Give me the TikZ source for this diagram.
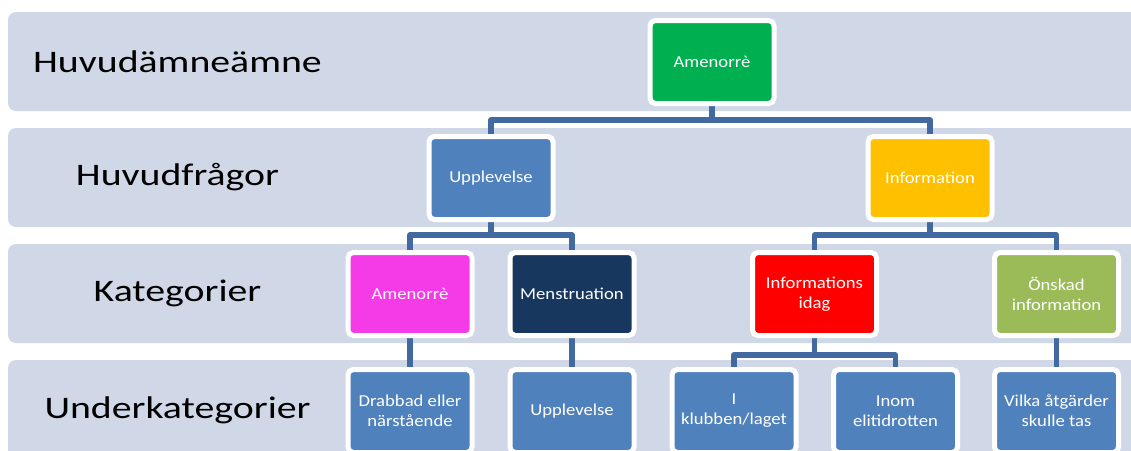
\documentclass[tikz,border=0pt]{standalone}
\usepackage{fontspec}
\setmainfont{Carlito}
\newfontfamily\boxfont{Carlito}[FakeStretch=1.12]
\newfontfamily\labfont{Carlito}[FakeStretch=1.27]
\usetikzlibrary{calc}
\pgfdeclarelayer{bands}
\pgfdeclarelayer{conns}
\pgfsetlayers{bands,conns,main}
\definecolor{bandc}{RGB}{208,216,232}
\definecolor{connc}{RGB}{66,106,160}
\definecolor{cgreen}{RGB}{0,176,80}
\definecolor{cyellow}{RGB}{255,192,0}
\definecolor{cblue}{RGB}{79,129,189}
\definecolor{cpink}{RGB}{245,58,232}
\definecolor{cnavy}{RGB}{23,55,94}
\definecolor{cred}{RGB}{255,0,0}
\definecolor{colive}{RGB}{155,187,89}
\tikzset{
  box/.style={draw=white, line width=3.75pt, rounded corners=4pt,
    minimum width=93pt, minimum height=62.25pt, inner sep=0pt,
    align=center, text=white, font=\boxfont\fontsize{12.5}{15}\selectfont},
  conn/.style={draw=connc, line width=4pt, line join=round},
  band/.style={fill=bandc, rounded corners=6pt},
  bandlabel/.style={font=\labfont\fontsize{23.5}{28}\selectfont, text=black}
}
\begin{document}
\begin{tikzpicture}[x=0.75pt,y=-0.75pt]
\clip (0,0) rectangle (1131,450);
\begin{pgfonlayer}{bands}
\fill[white] (0,0) rectangle (1131,450);
\fill[band] (8,12) rectangle (1145,111);
\fill[band] (8,128) rectangle (1145,227);
\fill[band] (8,244) rectangle (1145,343);
\fill[band] (8,360) rectangle (1145,470);
\end{pgfonlayer}
\node[bandlabel] (l1) at (177.5,61.5) {Huvudämneämne};
\node[bandlabel] (l2) at (177.5,177.5) {Huvudfrågor};
\node[bandlabel] (l3) at (177.5,293.5) {Kategorier};
\node[bandlabel] (l4) at (177.5,410) {Underkategorier};

\node[box, fill=cgreen] (amen) at (712,62) {Amenorrè};
\node[box, fill=cblue] (upp) at (491,178) {Upplevelse};
\node[box, fill=cyellow] (inf) at (930,178) {Information};
\node[box, fill=cpink] (kam) at (410,294) {Amenorrè};
\node[box, fill=cnavy] (men) at (572,294) {Menstruation};
\node[box, fill=cred] (infi) at (814.5,294) {Informations\\idag};
\node[box, fill=colive] (onsk) at (1056.5,294) {Önskad\\information};
\node[box, fill=cblue] (dr) at (410,411) {Drabbad eller\\närstående};
\node[box, fill=cblue] (upl) at (572,411) {Upplevelse};
\node[box, fill=cblue] (kl) at (734,411) {I\\klubben/laget};
\node[box, fill=cblue] (inom) at (895.5,411) {Inom\\elitidrotten};
\node[box, fill=cblue] (vilka) at (1056.5,411) {Vilka åtgärder\\skulle tas};

\coordinate (j1) at (712,120);
\coordinate (j2) at (491,235);
\coordinate (j3) at (930,235);
\coordinate (j4) at (814.5,355);
\begin{pgfonlayer}{conns}
\draw[conn] (amen) -- (j1);
\draw[conn] (upp.center) |- (j1) -| (inf.center);
\draw[conn] (upp) -- (j2);
\draw[conn] (kam.center) |- (j2) -| (men.center);
\draw[conn] (inf) -- (j3);
\draw[conn] (infi.center) |- (j3) -| (onsk.center);
\draw[conn] (kam) -- (dr);
\draw[conn] (men) -- (upl);
\draw[conn] (onsk) -- (vilka);
\draw[conn] (infi) -- (j4);
\draw[conn] (kl.center) |- (j4) -| (inom.center);
\end{pgfonlayer}
\end{tikzpicture}
\end{document}
